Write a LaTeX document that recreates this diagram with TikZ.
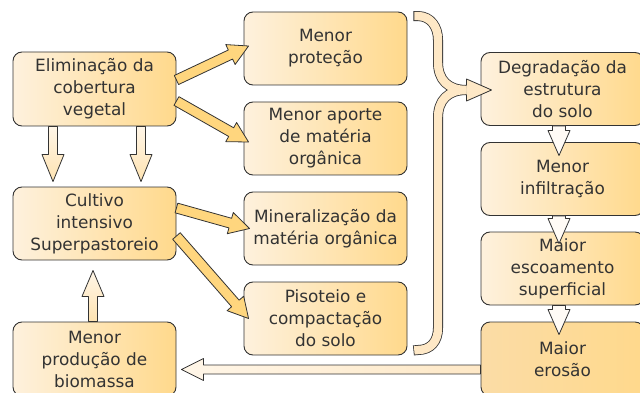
\documentclass[tikz,border=0pt]{standalone}
\usepackage{fontspec}
\setmainfont{DejaVu Sans}
\usetikzlibrary{calc}
\definecolor{boxlight}{HTML}{FEF1DD}
\definecolor{boxdark}{HTML}{FFD98C}
\definecolor{erolight}{HTML}{FBDCA6}
\definecolor{edge}{HTML}{333333}
\definecolor{ink}{HTML}{333333}
\definecolor{arrorange}{HTML}{FFD67E}
\definecolor{cream}{HTML}{FEE8C6}
\definecolor{paleyel}{HTML}{FFF6E8}

% tail, tip, half shaft, half head, head length
\newcommand{\fatarrow}[6][]{%
  \coordinate (hb) at ($(#3)!#6!(#2)$);
  \draw[#1] ($(#2)!#4!90:(#3)$) -- ($(hb)!#4!90:(#3)$) -- ($(hb)!#5!90:(#3)$) -- (#3)
    -- ($(hb)!#5!-90:(#3)$) -- ($(hb)!#4!-90:(#3)$) -- ($(#2)!#4!-90:(#3)$) -- cycle;
}

\begin{document}
\begin{tikzpicture}[x=1pt, y=-1pt, line join=round,
  font=\fontsize{16.9}{22}\selectfont,
  box/.style={draw=edge, line width=0.9pt, rounded corners=9pt, minimum width=163pt,
    minimum height=73pt, left color=boxlight, right color=boxdark, text=ink,
    align=center, inner sep=2pt},
  orangearrow/.style={draw=edge, line width=0.8pt, fill=arrorange},
  palearrow/.style={draw=edge, line width=0.8pt, top color=paleyel, bottom color=cream!70!arrorange},
  whitearrow/.style={draw=edge, line width=0.8pt, fill=paleyel!40!white},
  bandout/.style={draw=edge, line width=10pt},
  bandin/.style={draw=cream, line width=8.4pt}]
  \useasboundingbox (0,0) rectangle (640,393);
  \clip (0,0) rectangle (640,393);

  \node[box, minimum height=74pt] (elim) at (94.5,89) {Eliminação da\\cobertura\\vegetal};
  \node[box] (cult) at (94.5,223.5) {Cultivo\\intensivo\\Superpastoreio};
  \node[box, minimum height=74pt] (prod) at (94.5,359) {Menor\\produção de\\biomassa};
  \node[box] (prot) at (325.5,48.5) {Menor\\proteção};
  \node[box] (aporte) at (325.5,138.5) {Menor aporte\\de matéria\\orgânica};
  \node[box] (miner) at (325.5,228.5) {Mineralização da\\matéria orgânica};
  \node[box] (pisot) at (325.5,318.5) {Pisoteio e\\compactação\\do solo};
  \node[box] (degr) at (562.5,89) {Degradação da\\estrutura\\do solo};
  \node[box] (infil) at (562.5,179) {Menor\\infiltração};
  \node[box] (escoa) at (562.5,268.5) {Maior\\escoamento\\superficial};
  \node[box, minimum height=74pt, left color=erolight] (eros) at (562.5,359) {Maior\\erosão};

  \coordinate (t1) at ($(elim.east)+(0,-9)$);
  \coordinate (t2) at ($(elim.east)+(0,12)$);
  \coordinate (p1) at ($(prot.west)+(5,-2.5)$);
  \coordinate (p2) at ($(aporte.west)+(5,3.5)$);
  \coordinate (t3) at ($(cult.east)+(0,-15.5)$);
  \coordinate (t4) at ($(cult.east)+(0,12.5)$);
  \coordinate (p3) at ($(miner.west)+(6,0)$);
  \coordinate (p4) at ($(pisot.west)+(5,0)$);
  \fatarrow[orangearrow]{t1}{p1}{5pt}{11pt}{20pt}
  \fatarrow[orangearrow]{t2}{p2}{5pt}{11pt}{20pt}
  \fatarrow[orangearrow]{t3}{p3}{5pt}{11pt}{20pt}
  \fatarrow[orangearrow]{t4}{p4}{5pt}{11pt}{20pt}

  \coordinate (d1) at ($(elim.south)+(-41.5,0)$);
  \coordinate (d2) at ($(elim.south)+(46.5,0)$);
  \coordinate (c1) at ($(cult.north)+(-41.5,-5)$);
  \coordinate (c2) at ($(cult.north)+(46.5,-5)$);
  \fatarrow[palearrow]{d1}{c1}{4.5pt}{11pt}{27pt}
  \fatarrow[palearrow]{d2}{c2}{4.5pt}{11pt}{27pt}
  \coordinate (u1) at ($(prod.north)+(-1.5,0)$);
  \coordinate (u2) at ($(cult.south)+(-1.5,10)$);
  \fatarrow[palearrow]{u1}{u2}{4.5pt}{11pt}{26pt}

  \coordinate (r1) at ($(degr.south)+(-3.5,0)$);
  \coordinate (r2) at ($(infil.north)+(-3.5,13.5)$);
  \coordinate (r3) at ($(infil.south)+(-3.5,0)$);
  \coordinate (r4) at ($(escoa.north)+(-3.5,12)$);
  \coordinate (r5) at ($(escoa.south)+(-3.5,0)$);
  \coordinate (r6) at ($(eros.north)+(-3.5,13)$);
  \fatarrow[whitearrow]{r1}{r2}{6.5pt}{11pt}{25pt}
  \fatarrow[whitearrow]{r3}{r4}{6.5pt}{11pt}{25pt}
  \fatarrow[whitearrow]{r5}{r6}{6.5pt}{11pt}{25pt}

  \coordinate (b1) at ($(eros.west)+(0,10.5)$);
  \coordinate (b2) at ($(prod.east)+(5,10.5)$);
  \fatarrow[palearrow, left color=paleyel, right color=cream]{b1}{b2}{4.5pt}{11pt}{22pt}

  \coordinate (bt) at ($(prot.north east)+(6,4.5)$);
  \coordinate (bb) at ($(pisot.south east)+(6,-5)$);
  \coordinate (bj) at ($(degr.west)+(-14,1)$);
  \coordinate (bx) at ($(degr.west)+(11,1)$);
  \draw[bandout] (bt) -- ++(5,0) .. controls (431,16.5) and (438,27) .. (438,40) -- (438,62)
    .. controls (438,80) and (448,90) .. (bj);
  \draw[bandout] (bj) .. controls (448,90) and (438,100) .. (438,118) -- (438,328)
    .. controls (438,341) and (431,350) .. (418,350) -- (bb);
  \draw[bandin, shorten <=0.8pt] (bt) -- ++(5,0) .. controls (431,16.5) and (438,27) .. (438,40) -- (438,62)
    .. controls (438,80) and (448,90) .. (bj);
  \draw[bandin, shorten >=0.8pt] (bj) .. controls (448,90) and (438,100) .. (438,118) -- (438,328)
    .. controls (438,341) and (431,350) .. (418,350) -- (bb);
  \draw[draw=edge, line width=0.8pt, fill=cream] ($(bj)+(0,-4.6)$) -- ($(bj)+(0,-11)$) -- (bx)
    -- ($(bj)+(0,11)$) -- ($(bj)+(0,4.6)$);
\end{tikzpicture}
\end{document}
